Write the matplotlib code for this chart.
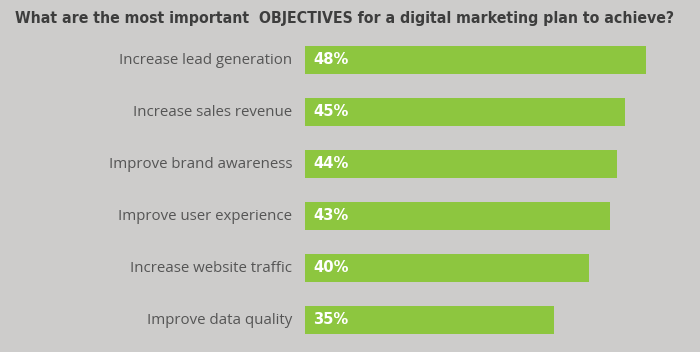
import matplotlib
matplotlib.use("Agg")
import matplotlib.pyplot as plt

# chart data
objectives = ['Increase lead generation', 'Increase sales revenue', 'Improve brand awareness',
              'Improve user experience', 'Increase website traffic', 'Improve data quality']
percent = [48, 45, 44, 43, 40, 35]
title = 'What are the most important  OBJECTIVES for a digital marketing plan to achieve?'

bg = '#cdcccb'
green = '#8dc63f'
grey_text = '#555555'

fig = plt.figure(figsize=(7, 3.52), dpi=100, facecolor=bg)
ax = fig.add_axes([305 / 700, 6 / 352, 395 / 700, 312 / 352])
ax.set_facecolor(bg)

y = list(range(len(objectives)))
ax.barh(y, percent, height=0.54, color=green)
ax.set_xlim(0, 395 / 7.1)
ax.set_ylim(len(objectives) - 0.5, -0.5)

for i, (name, v) in enumerate(zip(objectives, percent)):
    ax.text(1.2, i, f'{v}%', color='white', fontweight='bold', fontsize=10.6,
            va='center', ha='left', family='DejaVu Sans')
    ax.text(-1.8, i, name, color=grey_text, fontsize=10.8, va='center', ha='right',
            family='Open Sans', fontstretch='normal')

ax.axis('off')

t = fig.text(15 / 700, 1 - 18 / 352, title, fontsize=12.5, fontweight='bold', color='#3d3d3d',
             va='center', ha='left', family='DejaVu Sans', fontstretch='condensed')
# shrink the title until it fits the width used in the original
r = fig.canvas.get_renderer()
while t.get_window_extent(r).width > 664:
    t.set_fontsize(t.get_fontsize() - 0.1)

fig.savefig('out.png', dpi=100, facecolor=bg)
